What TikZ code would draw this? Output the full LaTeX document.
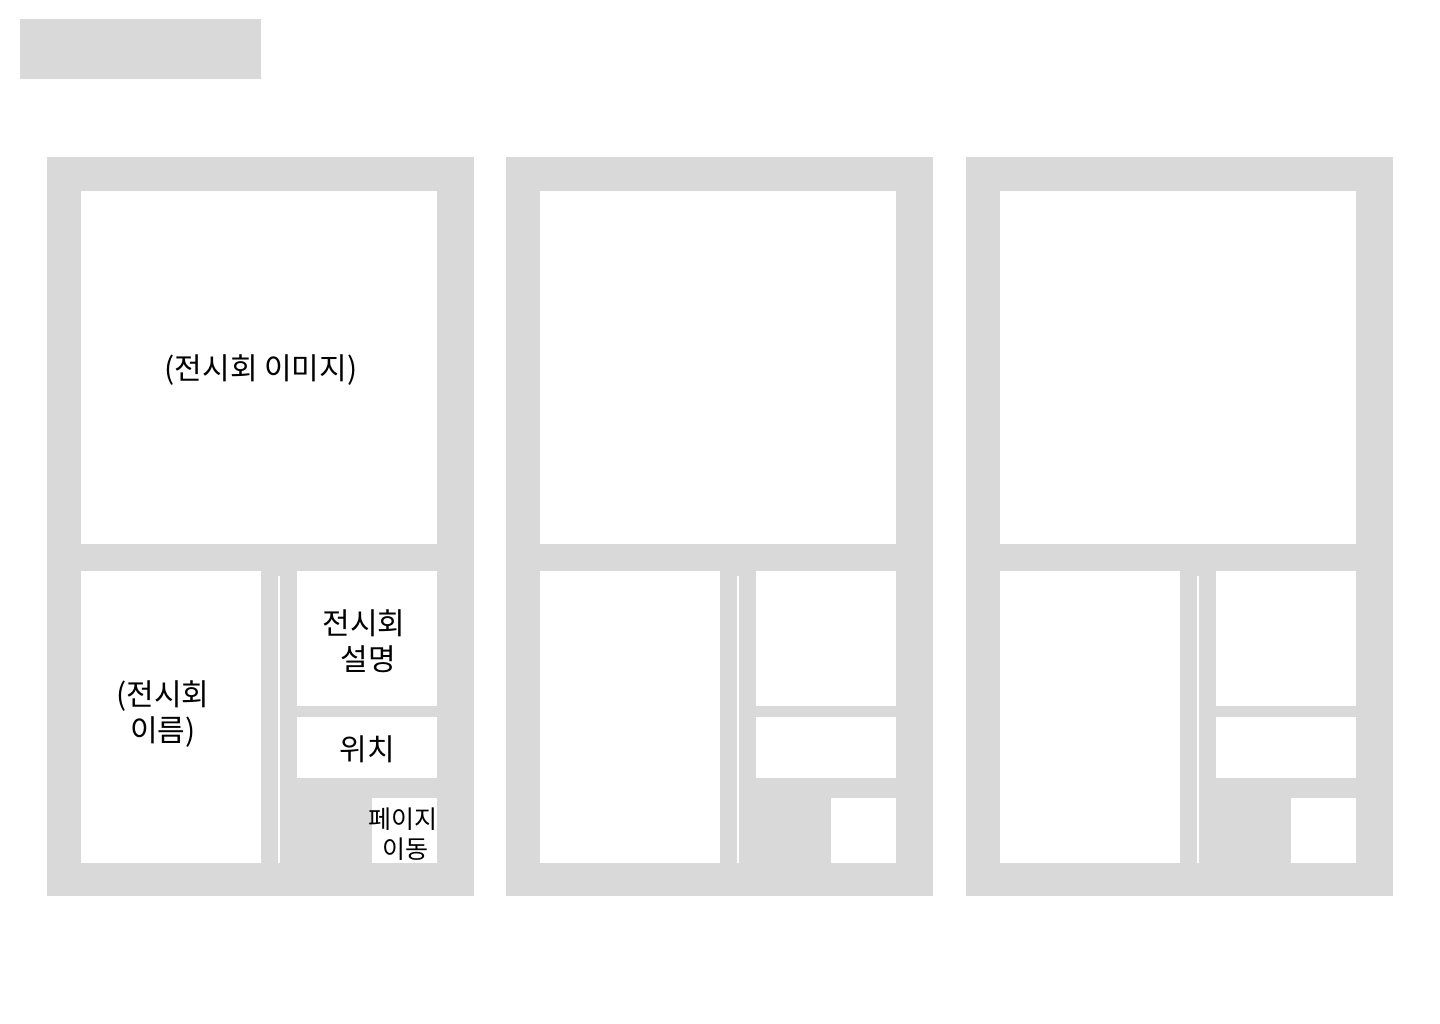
\documentclass[tikz,border=0pt]{standalone}
\usepackage{fontspec}
\newfontfamily\kr{Noto Sans CJK KR}
\definecolor{wfgray}{HTML}{D9D9D9}
\tikzset{
  graybox/.style={fill=wfgray},
  whitebox/.style={fill=white},
  lbl/.style={font=\kr\fontsize{30}{35.5}\selectfont, text=black, align=center, inner sep=0pt},
  smalllbl/.style={font=\kr\fontsize{25}{29.5}\selectfont, text=black, align=center, inner sep=0pt}
}
\newcommand{\wfpanel}[1]{%
  \begin{scope}[shift={(#1,157)}]
    \fill[graybox] (0,0) rectangle (427,739);
    \fill[whitebox] (34,34) rectangle (390,387);
    \fill[whitebox] (34,414) rectangle (214,706);
    \fill[whitebox] (231,419) rectangle (233,706);
    \fill[whitebox] (250,414) rectangle (390,549);
    \fill[whitebox] (250,560) rectangle (390,621);
    \fill[whitebox] (325,641) rectangle (390,706);
  \end{scope}}
\begin{document}
\begin{tikzpicture}[x=1pt,y=-1pt]
  \useasboundingbox (0,0) rectangle (1440,1024);
  \fill[white] (0,0) rectangle (1440,1024);
  \fill[graybox] (20,19) rectangle (261,79);
  \wfpanel{47}
  \wfpanel{506}
  \wfpanel{966}
  \node[lbl] (img) at (261,370) {(전시회 이미지)};
  \node[lbl] (name) at (163,714) {(전시회\\이름)};
  \node[lbl] (desc) at (364,641) {전시회\\\hspace{8pt}설명};
  \node[lbl] (loc) at (367,749) {위치};
  \node[smalllbl] (page) at (403,834) {페이지\\\hspace{5pt}이동};
\end{tikzpicture}
\end{document}
